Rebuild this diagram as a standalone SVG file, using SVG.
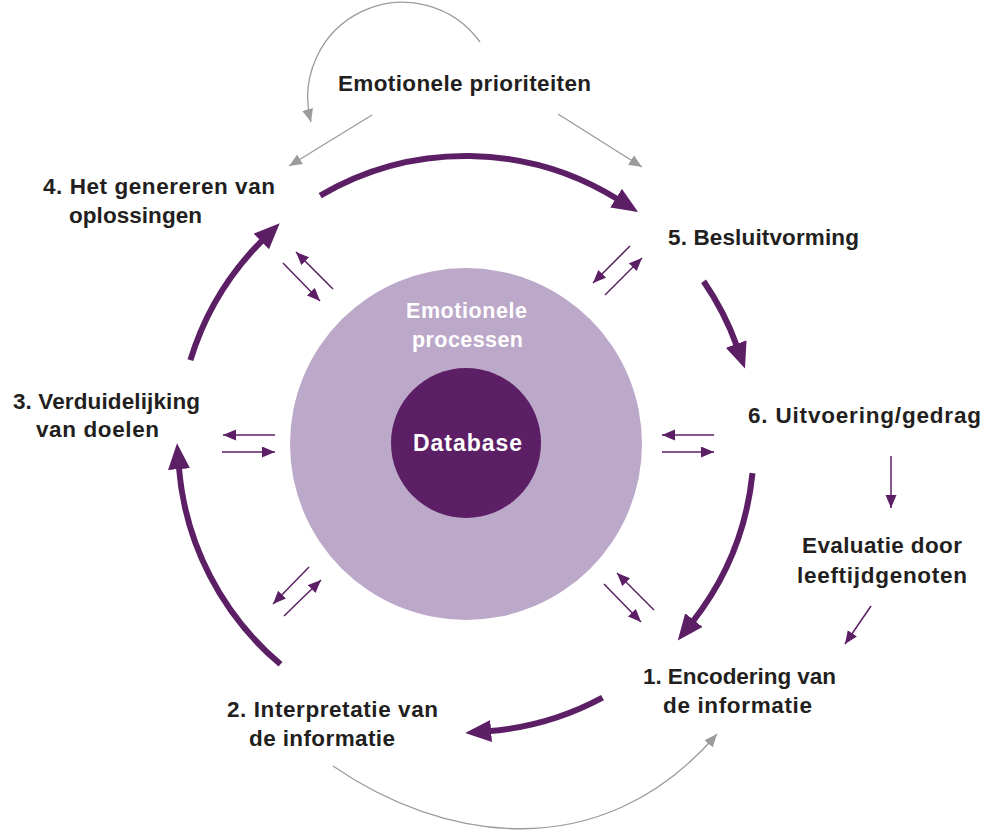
<svg xmlns="http://www.w3.org/2000/svg" width="983" height="832" viewBox="0 0 983 832">
<style>
  .lbl { font-family: "Liberation Sans", Arial, sans-serif; font-weight: bold; font-size: 22.5px; fill: #231f20; }
  .wht { font-family: "Liberation Sans", Arial, sans-serif; font-weight: bold; font-size: 21.5px; fill: #ffffff; }
  .db { font-size: 23px; }
  .big { fill: none; stroke: #5c1f66; stroke-width: 6; marker-end: url(#hBig); }
  .sm { fill: none; stroke: #5c1f66; stroke-width: 1.5; marker-end: url(#hSm); }
  .gr { fill: none; stroke: #9b9b9b; stroke-width: 1.3; marker-end: url(#hGr); }
</style>
<defs>
  <marker id="hBig" markerUnits="userSpaceOnUse" markerWidth="28" markerHeight="24" refX="3" refY="11" orient="auto">
    <path d="M0,0 L26,11 L0,22 z" fill="#5c1f66"/>
  </marker>
  <marker id="hSm" markerUnits="userSpaceOnUse" markerWidth="14" markerHeight="12" refX="13" refY="5.5" orient="auto">
    <path d="M0,0 L13,5.5 L0,11 z" fill="#5c1f66"/>
  </marker>
  <marker id="hGr" markerUnits="userSpaceOnUse" markerWidth="14" markerHeight="12" refX="13" refY="5.5" orient="auto">
    <path d="M0,0 L13,5.5 L0,11 z" fill="#9b9b9b"/>
  </marker>
</defs>
<rect width="983" height="832" fill="#ffffff"/>

<g id="emotionele-processen">
  <circle cx="466" cy="444" r="176" fill="#bca8c8"/>
  <text class="wht" x="406" y="318" textLength="121">Emotionele</text>
  <text class="wht" x="412" y="347" textLength="111">processen</text>
</g>
<g id="database">
  <circle cx="466" cy="443" r="75" fill="#5c1f66"/>
  <text class="wht db" x="413" y="451" textLength="109">Database</text>
</g>

<g id="emotionele-prioriteiten">
  <text class="lbl" x="338" y="91" textLength="253">Emotionele prioriteiten</text>
</g>
<g id="stap4">
  <text class="lbl" x="43" y="194" textLength="232">4. Het genereren van</text>
  <text class="lbl" x="69" y="223" textLength="133">oplossingen</text>
</g>
<g id="stap5">
  <text class="lbl" x="668" y="245" textLength="191">5. Besluitvorming</text>
</g>
<g id="stap3">
  <text class="lbl" x="13" y="409" textLength="187">3. Verduidelijking</text>
  <text class="lbl" x="36" y="437" textLength="123">van doelen</text>
</g>
<g id="stap6">
  <text class="lbl" x="748" y="423" textLength="233">6. Uitvoering/gedrag</text>
</g>
<g id="evaluatie">
  <text class="lbl" x="802" y="553" textLength="160">Evaluatie door</text>
  <text class="lbl" x="797" y="583" textLength="170">leeftijdgenoten</text>
</g>
<g id="stap1">
  <text class="lbl" x="643" y="684" textLength="193">1. Encodering van</text>
  <text class="lbl" x="663" y="713" textLength="149">de informatie</text>
</g>
<g id="stap2">
  <text class="lbl" x="227" y="717" textLength="211">2. Interpretatie van</text>
  <text class="lbl" x="249" y="746" textLength="146">de informatie</text>
</g>

<g id="connectors">
  <path class="big" d="M320.2,195.6 A288 288 0 0 1 618.6,199.8"/>
  <path class="big" d="M703.6,281.3 A288 288 0 0 1 737.2,346.9"/>
  <path class="big" d="M752.5,473.1 A288 288 0 0 1 692.0,622.5"/>
  <path class="big" d="M602.5,697.6 A288 288 0 0 1 488.1,731.2"/>
  <path class="big" d="M280.5,664.3 A288 288 0 0 1 178.8,466.1"/>
  <path class="big" d="M190.4,360.2 A288 288 0 0 1 263.4,239.3"/>

  <line class="sm" x1="283" y1="263" x2="320" y2="301"/>
  <line class="sm" x1="333" y1="289" x2="296" y2="252"/>
  <line class="sm" x1="630" y1="246" x2="593" y2="283"/>
  <line class="sm" x1="605" y1="295" x2="642" y2="258"/>
  <line class="sm" x1="275" y1="435" x2="223" y2="435"/>
  <line class="sm" x1="222" y1="452" x2="275" y2="452"/>
  <line class="sm" x1="714" y1="435" x2="662" y2="435"/>
  <line class="sm" x1="662" y1="452" x2="714" y2="452"/>
  <line class="sm" x1="309" y1="567" x2="273" y2="604"/>
  <line class="sm" x1="284" y1="616" x2="321" y2="580"/>
  <line class="sm" x1="604" y1="584" x2="641" y2="622"/>
  <line class="sm" x1="654" y1="610" x2="617" y2="573"/>
  <line class="sm" x1="891" y1="456" x2="891" y2="508"/>
  <line class="sm" x1="871" y1="606" x2="845" y2="644"/>

  <path class="gr" d="M480,42 A95 95 0 0 0 311,122"/>
  <line class="gr" x1="372" y1="115" x2="289" y2="166"/>
  <line class="gr" x1="558" y1="114" x2="642" y2="167"/>
  <path class="gr" d="M333,766 C440,840 600,870 717,734"/>
</g>
</svg>
